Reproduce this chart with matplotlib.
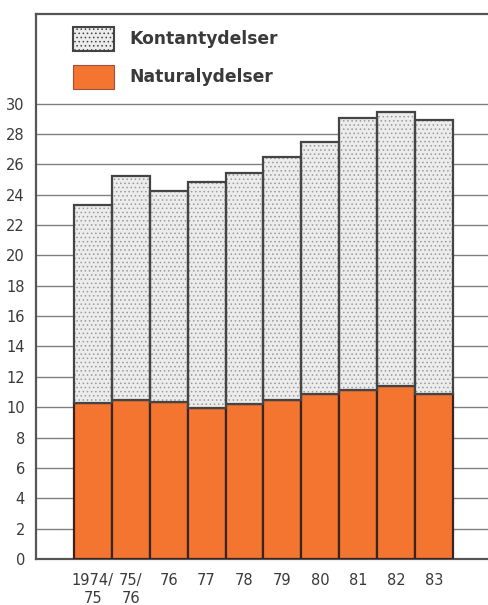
import matplotlib
matplotlib.use("Agg")
import matplotlib.pyplot as plt
from matplotlib.patches import Patch

years = ["1974/\n75", "75/\n76", "76", "77", "78", "79", "80", "81", "82", "83"]
naturalydelser = [10.3, 10.45, 10.35, 9.95, 10.2, 10.45, 10.9, 11.15, 11.4, 10.9]
total = [23.3, 25.25, 24.25, 24.85, 25.45, 26.5, 27.5, 29.05, 29.45, 28.95]
kontantydelser = [t - n for t, n in zip(total, naturalydelser)]

ORANGE = "#f47530"
EDGE = "#3a2420"
STIP = "#ececec"
TXT = "#3a3a3a"

plt.rcParams["font.family"] = ["DejaVu Sans"]
plt.rcParams["hatch.color"] = "#9a9a9a"
plt.rcParams["hatch.linewidth"] = 0.6

fig = plt.figure(figsize=(4.89, 6.05), dpi=100)
ax = fig.add_axes([36 / 489, 1 - 559 / 605, 1 - 36 / 489, (559 - 14) / 605])

x = list(range(len(years)))
ax.set_axisbelow(True)
ax.bar(x, naturalydelser, width=1.0, color=ORANGE, edgecolor=EDGE, linewidth=1.6, zorder=3)
ax.bar(x, kontantydelser, bottom=naturalydelser, width=1.0, color=STIP,
       hatch="....", edgecolor="#9a9a9a", linewidth=0, zorder=3)
ax.bar(x, kontantydelser, bottom=naturalydelser, width=1.0, fill=False,
       edgecolor="#444444", linewidth=1.6, zorder=4)

ax.set_xlim(-1.5, 10.45)
ax.set_ylim(0, 35.9)
ax.set_yticks(range(0, 31, 2))
ax.yaxis.grid(True, color="#808080", linewidth=1.0)
ax.tick_params(axis="y", length=0, pad=8, labelsize=10.5, labelcolor=TXT)
ax.set_xticks(x)
ax.set_xticklabels(years, linespacing=1.25)
ax.tick_params(axis="x", length=0, pad=10, labelsize=10.5, labelcolor=TXT)

for s in ("left", "top", "bottom"):
    ax.spines[s].set_color("#555555")
    ax.spines[s].set_linewidth(1.6)
ax.spines["right"].set_visible(False)

handles = [Patch(facecolor=STIP, edgecolor="#444444", hatch="....", linewidth=1.5, label="Kontantydelser"),
           Patch(facecolor=ORANGE, edgecolor="#a05040", linewidth=0.8, label="Naturalydelser")]
leg = ax.legend(handles=handles, loc="upper left", bbox_to_anchor=(37 / 453, (559 - 27) / 545),
                frameon=False, borderpad=0, borderaxespad=0,
                handlelength=2.4, handleheight=1.75, handletextpad=0.9,
                labelspacing=0.85, prop={"weight": "bold", "size": 12.3})
for t in leg.get_texts():
    t.set_color(TXT)

fig.savefig("out.png", dpi=100)
